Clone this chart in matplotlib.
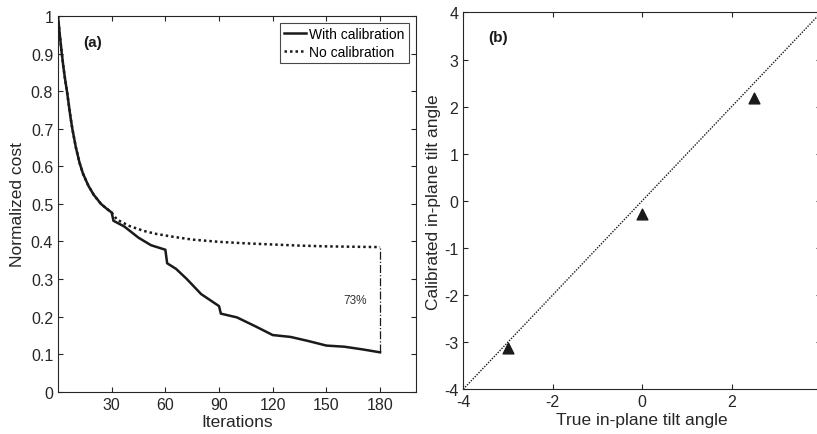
import matplotlib
matplotlib.use("Agg")
import matplotlib.pyplot as plt

# ---- data ----
# panel (a): normalized cost vs iterations
it_cal = [0, 1, 2, 3, 4, 5, 6, 7, 8, 10, 12, 14, 17, 20, 24, 27, 30,
          31, 37, 45, 52, 60, 61, 66, 72, 80, 90, 91, 100, 110, 120,
          130, 140, 150, 160, 170, 180]
cost_cal = [1.0, 0.95, 0.905, 0.865, 0.83, 0.80, 0.765, 0.73, 0.70, 0.65, 0.61, 0.58, 0.548,
            0.524, 0.50, 0.488, 0.477,
            0.455, 0.44, 0.41, 0.39, 0.378, 0.342, 0.327, 0.30, 0.26, 0.228, 0.208, 0.198, 0.175, 0.151,
            0.146, 0.135, 0.123, 0.12, 0.113, 0.105]

it_nocal = [0, 1, 2, 3, 4, 5, 6, 7, 8, 10, 12, 14, 17, 20, 24, 27, 30,
            33, 40, 48, 55, 65, 75, 90, 105, 120, 135, 150, 165, 180]
cost_nocal = [1.0, 0.95, 0.905, 0.865, 0.83, 0.80, 0.765, 0.73, 0.70, 0.65, 0.61, 0.58, 0.548,
              0.524, 0.50, 0.488, 0.477,
              0.458, 0.441, 0.428, 0.42, 0.412, 0.405, 0.399, 0.395, 0.392, 0.389, 0.387, 0.386, 0.385]

gap_x = 180
gap_label = "73%"

# panel (b): true vs calibrated in-plane tilt angle
true_tilt = [-3.0, 0.0, 2.5]
calib_tilt = [-3.12, -0.28, 2.19]
ref_line = [-4, 4]

INK = "#1a1a1a"
AXC = "#262626"

plt.rcParams.update({
    "font.family": ["Liberation Sans", "DejaVu Sans"],
    "font.size": 10,
    "axes.unicode_minus": False,
    "axes.edgecolor": AXC,
    "axes.linewidth": 0.8,
    "xtick.direction": "in",
    "ytick.direction": "in",
    "xtick.top": True,
    "ytick.right": True,
    "xtick.color": AXC,
    "ytick.color": AXC,
    "xtick.labelcolor": AXC,
    "ytick.labelcolor": AXC,
    "xtick.labelsize": 11.5,
    "ytick.labelsize": 11.5,
    "xtick.major.size": 3.5,
    "ytick.major.size": 3.5,
})

fig = plt.figure(figsize=(8.17, 4.35), dpi=100)
axa = fig.add_axes([0.071, 0.097, 0.438, 0.864])
axb = fig.add_axes([0.567, 0.103, 0.438, 0.866])

# ── Panel (a) ──
axa.plot(it_nocal, cost_nocal, color=INK, lw=1.8, linestyle=(0, (1, 1.2)),
         label="No calibration", zorder=2)
axa.plot(it_cal, cost_cal, color=INK, lw=1.8, label="With calibration", zorder=3)
axa.plot([gap_x, gap_x], [cost_cal[-1], cost_nocal[-1]], color=INK, lw=0.9,
         linestyle="-.", zorder=1)
axa.text(166, 0.245, gap_label, fontsize=8.5, color="#333333", ha="center", va="center")
axa.text(0.07, 0.93, "(a)", transform=axa.transAxes, fontsize=11,
         fontweight="bold", color=INK, ha="left", va="center")

axa.set_xlim(0, 200)
axa.set_ylim(0, 1)
axa.set_xticks([30, 60, 90, 120, 150, 180])
axa.set_yticks([0, 0.1, 0.2, 0.3, 0.4, 0.5, 0.6, 0.7, 0.8, 0.9, 1.0])
axa.set_yticklabels(["0", "0.1", "0.2", "0.3", "0.4", "0.5", "0.6", "0.7", "0.8", "0.9", "1"])
axa.set_xlabel("Iterations", fontsize=12.5, color=AXC, labelpad=2)
axa.set_ylabel("Normalized cost", fontsize=12.5, color=AXC, labelpad=4)

h, l = axa.get_legend_handles_labels()
leg = axa.legend([h[1], h[0]], [l[1], l[0]], loc="upper right", fontsize=10,
                 frameon=True, fancybox=False, handlelength=1.6, handletextpad=0.25,
                 borderpad=0.3, borderaxespad=0.5, labelspacing=0.25)
leg.get_frame().set_edgecolor(INK)
leg.get_frame().set_linewidth(0.8)

# ── Panel (b) ──
axb.plot(ref_line, ref_line, color=INK, lw=1.0, linestyle=(0, (1, 1)), zorder=1)
axb.scatter(true_tilt, calib_tilt, marker="^", s=60, color=INK, zorder=3)
axb.text(0.07, 0.935, "(b)", transform=axb.transAxes, fontsize=11,
         fontweight="bold", color=INK, ha="left", va="center")
axb.set_xlim(-4, 4)
axb.set_ylim(-4, 4)
axb.set_xticks([-4, -2, 0, 2])
axb.set_yticks([-4, -3, -2, -1, 0, 1, 2, 3, 4])
axb.set_xlabel("True in-plane tilt angle", fontsize=12.5, color=AXC, labelpad=2)
axb.set_ylabel("Calibrated in-plane tilt angle", fontsize=12.5, color=AXC, labelpad=2)

fig.savefig("out.png", dpi=100)
